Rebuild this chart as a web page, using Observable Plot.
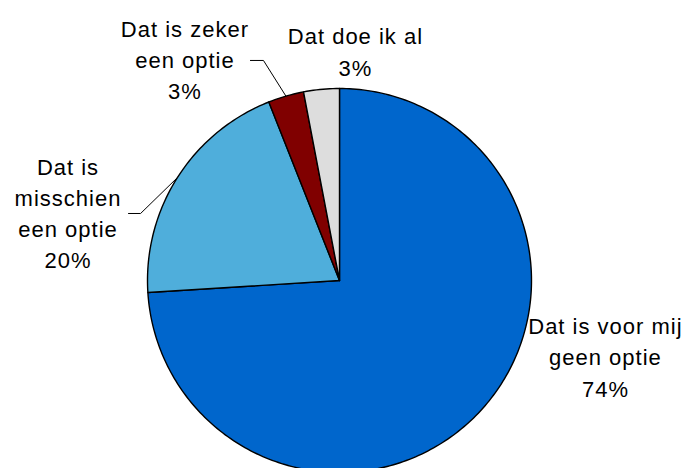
<!DOCTYPE html>
<html>
<head>
<meta charset="utf-8">
<script src="https://cdn.jsdelivr.net/npm/d3@7"></script>
<script src="https://cdn.jsdelivr.net/npm/@observablehq/plot@0.6"></script>
<style>
  html, body { margin: 0; padding: 0; background: #fff; }
</style>
</head>
<body>
<div id="chart"></div>
<script>
// Data
const categories = ["Dat is voor mij geen optie", "Dat is misschien een optie", "Dat is zeker een optie", "Dat doe ik al"];
const labelTexts = ["Dat is voor mij\ngeen optie\n74%", "Dat is\nmisschien\neen optie\n20%", "Dat is zeker\neen optie\n3%", "Dat doe ik al\n3%"];
const values = [74, 20, 3, 3];
const colors = ["#0066CC", "#4FAEDB", "#800000", "#DDDDDD"];

// Layout (pie in unit-radius coordinates)
const labelX = [1.385, -1.414, -0.805, 0.083];
const labelY = [-0.39, 0.36, 1.158, 1.2];
// leader knees (null = no leader): [horizontal start, knee]
const leaders = [null, [[-1.099, 0.349], [-1.036, 0.349]], [[-0.464, 1.146], [-0.396, 1.146]], null];

const W = 683, H = 468, R = 192, CX = 339, CY = 280;

const pie = d3.pie().sort(null).value(d => d.value)
  .startAngle(0).endAngle(2 * Math.PI);
const rows = categories.map((c, i) => ({category: c, value: values[i], i}));
const arcs = pie(rows);

// slice polygons
const slicePts = [];
arcs.forEach(a => {
  const n = Math.max(4, Math.ceil((a.endAngle - a.startAngle) / (Math.PI / 180)));
  slicePts.push({category: a.data.category, x: 0, y: 0});
  for (let k = 0; k <= n; k++) {
    const t = a.startAngle + (a.endAngle - a.startAngle) * k / n;
    slicePts.push({category: a.data.category, x: Math.sin(t), y: Math.cos(t)});
  }
  slicePts.push({category: a.data.category, x: 0, y: 0});
});

// leader lines
const leaderPts = [];
arcs.forEach((a, i) => {
  if (!leaders[i]) return;
  const m = (a.startAngle + a.endAngle) / 2;
  const [p0, p1] = leaders[i];
  leaderPts.push({k: i, x: p0[0], y: p0[1]});
  leaderPts.push({k: i, x: p1[0], y: p1[1]});
  leaderPts.push({k: i, x: Math.sin(m), y: Math.cos(m)});
});

const labels = categories.map((c, i) => ({text: labelTexts[i], x: labelX[i], y: labelY[i]}));

const chart = Plot.plot({
  width: W,
  height: H,
  margin: 0,
  x: {domain: [-CX / R, (W - CX) / R], axis: null},
  y: {domain: [-(H - CY) / R, CY / R], axis: null},
  color: {domain: categories, range: colors},
  style: {fontFamily: "'Liberation Sans', Arial, sans-serif", letterSpacing: "1px", background: "#fff"},
  marks: [
    Plot.line(slicePts, {x: "x", y: "y", z: "category", fill: "category", stroke: "black", strokeWidth: 1.4, strokeLinejoin: "round", clip: true}),
    Plot.line(leaderPts, {x: "x", y: "y", z: "k", stroke: "black", strokeWidth: 1}),
    Plot.text(labels, {x: "x", y: "y", text: "text", fontSize: 22, lineHeight: 1.42, textAnchor: "middle", lineAnchor: "middle", fill: "black"})
  ]
});
document.getElementById("chart").appendChild(chart);
</script>
</body>
</html>
